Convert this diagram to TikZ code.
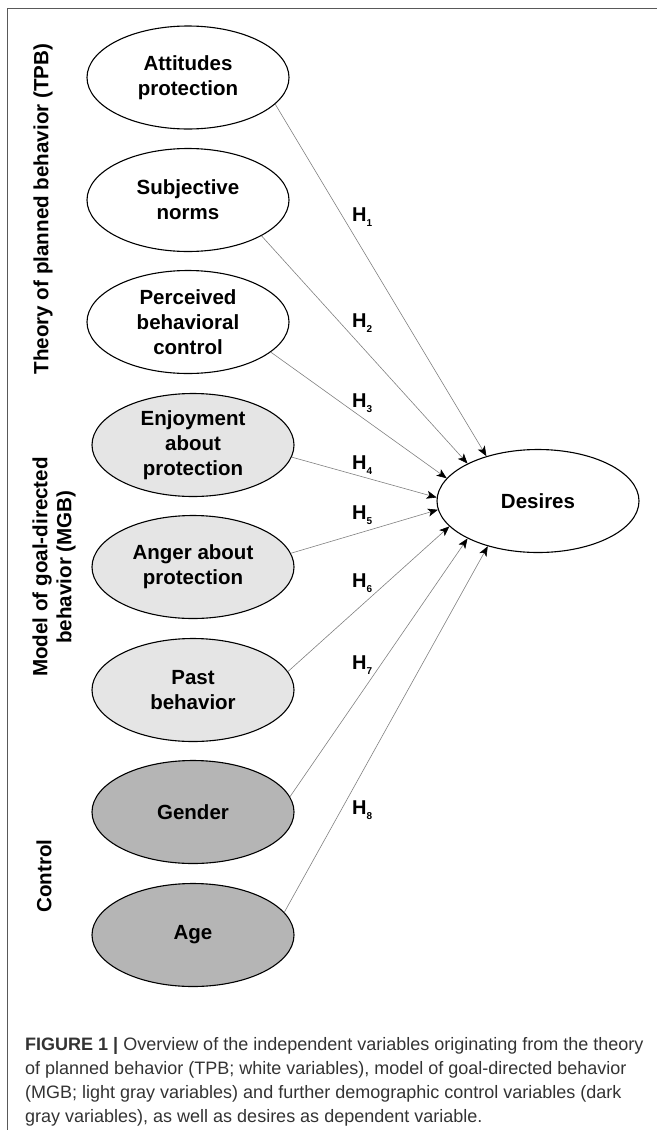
\documentclass[tikz,border=0pt]{standalone}
\usepackage{fontspec}
\setmainfont{Liberation Sans}
\usetikzlibrary{shapes.geometric,arrows.meta}
\definecolor{lightfill}{gray}{0.90}
\definecolor{darkfill}{gray}{0.71}
\definecolor{framegray}{gray}{0.35}
\definecolor{captiongray}{gray}{0.2}
\newcommand{\hsub}[1]{H\raisebox{-5.5pt}{\fontsize{10}{10}\selectfont #1}}
\begin{document}
\begin{tikzpicture}[x=1pt, y=-1pt,
    var/.style={draw, ellipse, line width=1.1pt, minimum width=202pt, minimum height=103pt,
      inner sep=-15pt, align=center, font=\fontsize{20.5}{25}\selectfont\bfseries},
    tpbvar/.style={var, fill=white},
    mgbvar/.style={var, fill=lightfill},
    ctrlvar/.style={var, fill=darkfill},
    hyp/.style={draw=gray, line width=0.6pt, -{Stealth[length=10pt, width=8pt, inset=2.5pt, color=black]}},
    hlabel/.style={anchor=base west, inner sep=0pt, font=\fontsize{20}{20}\selectfont\bfseries},
    grouplabel/.style={rotate=90, align=center, font=\fontsize{20.6}{24}\selectfont\bfseries}]
    \useasboundingbox (0,0) rectangle (657,1130);
    % frame
    \draw[framegray, line width=1.5pt] (7.5,1130) -- (7.5,8.5) -- (657,8.5);
    % independent variables
    \node[tpbvar] (att) at (188,77.5) {Attitudes\\protection};
    \node[tpbvar] (sub) at (188,200) {Subjective\\norms};
    \node[tpbvar] (pbc) at (188,322) {Perceived\\behavioral\\control};
    \node[mgbvar] (enj) at (193,445) {Enjoyment\\about\\protection};
    \node[mgbvar] (ang) at (193,567) {Anger about\\protection};
    \node[mgbvar] (past) at (193,690) {Past\\behavior};
    \node[ctrlvar] (gen) at (193,812) {Gender};
    \node[ctrlvar] (age) at (193,935) {Age};
    % dependent variable
    \node[tpbvar] (des) at (538,501) {Desires};
    % groups
    \node[grouplabel] (tpb) at (43,209) {Theory of planned behavior (TPB)};
    \node[grouplabel] (mgb) at (54,567) {Model of goal-directed\\behavior (MGB)};
    \node[grouplabel] (ctrl) at (44,876) {Control};
    % hypotheses
    \draw[hyp] (att.-17) -- (des.139);
    \draw[hyp] (sub.-26) -- (des.152);
    \draw[hyp] (pbc.-20) -- (des.166);
    \draw[hyp] (enj.-7) -- (des.178);
    \draw[hyp] (ang.8) -- (des.185);
    \draw[hyp] (past.11) -- (des.196);
    \draw[hyp] (gen.9) -- (des.208);
    \draw[hyp] (age.14) -- (des.222);
    \node[hlabel] (h1) at (352,221) {\hsub{1}};
    \node[hlabel] (h2) at (352,327) {\hsub{2}};
    \node[hlabel] (h3) at (352,407) {\hsub{3}};
    \node[hlabel] (h4) at (352,469) {\hsub{4}};
    \node[hlabel] (h5) at (352,519) {\hsub{5}};
    \node[hlabel] (h6) at (352,587) {\hsub{6}};
    \node[hlabel] (h7) at (352,669) {\hsub{7}};
    \node[hlabel] (h8) at (352,814) {\hsub{8}};
    % caption (base = last line)
    \node[anchor=base west, inner sep=0pt, align=left, text=captiongray,
      font=\fontsize{18}{23.7}\selectfont] (caption) at (25,1122)
      {\textbf{FIGURE 1 |} Overview of the independent variables originating from the theory\\
       of planned behavior (TPB; white variables), model of goal-directed behavior\\
       (MGB; light gray variables) and further demographic control variables (dark\\
       gray variables), as well as desires as dependent variable.};
\end{tikzpicture}
\end{document}
